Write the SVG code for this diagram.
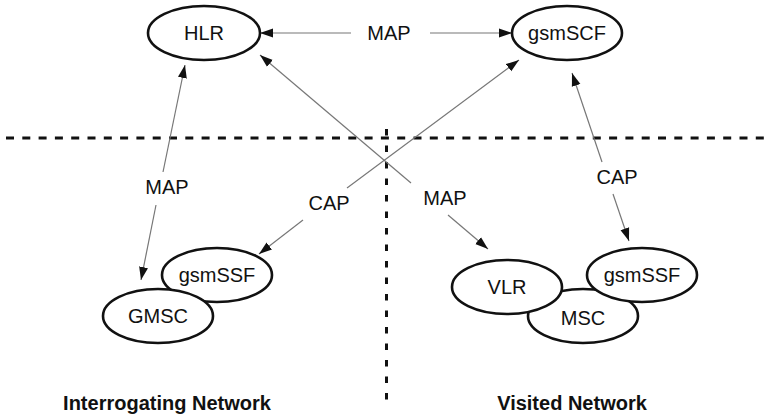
<svg xmlns="http://www.w3.org/2000/svg" width="766" height="417" viewBox="0 0 766 417">
<defs>
<marker id="ah" markerUnits="userSpaceOnUse" markerWidth="14" markerHeight="10" refX="13" refY="5" orient="auto-start-reverse" viewBox="0 0 14 10">
<path d="M0,0.5 L13,5 L0,9.5 Z" fill="#111"/>
</marker>
</defs>
<style>
.node ellipse{fill:#fff;stroke:#111;stroke-width:2.6}
.node text{font-family:"Liberation Sans",Arial,sans-serif;font-size:20px;fill:#111;text-anchor:middle;dominant-baseline:central}
.conn line{stroke:#777;stroke-width:1.2;fill:none}
.lbl{font-family:"Liberation Sans",Arial,sans-serif;font-size:20px;fill:#111;text-anchor:middle;dominant-baseline:central}
.title{font-family:"Liberation Sans",Arial,sans-serif;font-size:20px;font-weight:bold;fill:#111;text-anchor:middle}
.dash{stroke:#111;stroke-width:3;fill:none}
</style>
<rect width="766" height="417" fill="#fff"/>
<g id="boundaries">
<line class="dash" x1="6" y1="138" x2="766" y2="138" stroke-dasharray="8 8.3"/>
<line class="dash" x1="386.5" y1="129" x2="386.5" y2="408" stroke-dasharray="6.5 10"/>
</g>
<g id="connectors" class="conn">
<line x1="260" y1="33" x2="351" y2="33" marker-start="url(#ah)"/>
<line x1="430" y1="33" x2="512" y2="33" marker-end="url(#ah)"/>
<line x1="260" y1="55" x2="411" y2="183" marker-start="url(#ah)"/>
<line x1="448" y1="215" x2="488" y2="249" marker-end="url(#ah)"/>
<line x1="519" y1="60" x2="347" y2="188" marker-start="url(#ah)"/>
<line x1="303" y1="220" x2="259" y2="254" marker-end="url(#ah)"/>
<line x1="185" y1="65" x2="163" y2="172" marker-start="url(#ah)"/>
<line x1="156" y1="205" x2="141" y2="280" marker-end="url(#ah)"/>
<line x1="572" y1="73" x2="602" y2="162" marker-start="url(#ah)"/>
<line x1="613" y1="194" x2="629" y2="241" marker-end="url(#ah)"/>
</g>
<g id="labels">
<text class="lbl" x="389" y="33">MAP</text>
<text class="lbl" x="445" y="198">MAP</text>
<text class="lbl" x="329" y="203">CAP</text>
<text class="lbl" x="167" y="187">MAP</text>
<text class="lbl" x="617" y="177">CAP</text>
</g>
<g id="HLR" class="node"><ellipse cx="204" cy="33" rx="56" ry="27"/><text x="204" y="33">HLR</text></g>
<g id="gsmSCF" class="node"><ellipse cx="567" cy="33" rx="55" ry="27"/><text x="567" y="33">gsmSCF</text></g>
<g id="gsmSSF-I" class="node"><ellipse cx="217" cy="275" rx="55" ry="27"/><text x="217" y="275">gsmSSF</text></g>
<g id="GMSC" class="node"><ellipse cx="158" cy="316" rx="55" ry="27"/><text x="158" y="316">GMSC</text></g>
<g id="MSC" class="node"><ellipse cx="583" cy="316" rx="55" ry="27"/><text x="583" y="318">MSC</text></g>
<g id="VLR" class="node"><ellipse cx="507" cy="287" rx="55" ry="27"/><text x="507" y="287">VLR</text></g>
<g id="gsmSSF-V" class="node"><ellipse cx="642" cy="275" rx="55" ry="27"/><text x="642" y="275">gsmSSF</text></g>
<g id="titles">
<text class="title" x="167" y="410">Interrogating Network</text>
<text class="title" x="572" y="410">Visited Network</text>
</g>
</svg>
